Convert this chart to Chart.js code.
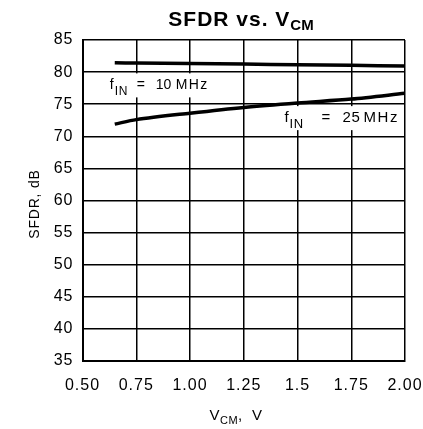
<!DOCTYPE html>
<html>
<head>
<meta charset="utf-8">
<script src="https://cdn.jsdelivr.net/npm/chart.js@4.4.0/dist/chart.umd.min.js"></script>
<style>
html, body { margin: 0; padding: 0; background: #fff; }
</style>
</head>
<body>
<canvas id="sfdr_chart" width="423" height="429"></canvas>
<script>
// data
var vcm = [0.65, 0.75, 1.00, 1.25, 1.50, 1.75, 2.00];
var sfdr_10mhz = [81.45, 81.4, 81.35, 81.25, 81.15, 81.05, 80.95];
var sfdr_25mhz = [71.9, 72.6, 73.6, 74.5, 75.2, 75.8, 76.7];
var x_tick_labels = ["0.50", "0.75", "1.00", "1.25", "1.5", "1.75", "2.00"];

var FONT = "'Liberation Sans', Arial, sans-serif";

// draw a run of text pieces (subscripts); each piece may have its own x offset
function draw_parts(ctx, parts, x, y, align) {
    var total = 0;
    parts.forEach(function(p) {
        ctx.font = p.font;
        ctx.letterSpacing = p.ls || "0px";
        p.w = ctx.measureText(p.text).width;
        total += p.w;
    });
    var cx = align === "center" ? x - total / 2 : x;
    parts.forEach(function(p) {
        ctx.font = p.font;
        ctx.letterSpacing = p.ls || "0px";
        var px = p.dx !== undefined ? x + p.dx : cx;
        ctx.fillText(p.text, px, y + (p.dy || 0));
        cx += p.w;
    });
}

function set_spacing(chart) {
    chart.ctx.letterSpacing = "1px";
}

var text_plugin = {
    id: "text_plugin",
    beforeLayout: set_spacing,
    beforeDraw: set_spacing,
    afterDraw: function(chart) {
        var ctx = chart.ctx;
        var xs = chart.scales.x, ys = chart.scales.y;
        ctx.save();
        ctx.fillStyle = "#000";
        ctx.textBaseline = "alphabetic";
        ctx.textAlign = "left";

        // title
        draw_parts(ctx, [
            { text: "SFDR vs. V", font: "bold 21px " + FONT, ls: "1px" },
            { text: "CM", font: "bold 15px " + FONT, dy: 4 }
        ], 241, 26, "center");

        // x axis title
        draw_parts(ctx, [
            { text: "V", font: "15px " + FONT, ls: "0.5px" },
            { text: "CM", font: "11px " + FONT, dy: 4, ls: "0.5px" },
            { text: ",  V", font: "15px " + FONT, ls: "0.5px" }
        ], 236, 420, "center");

        // y axis title
        ctx.save();
        ctx.translate(39, 204);
        ctx.rotate(-Math.PI / 2);
        draw_parts(ctx, [
            { text: "SFDR, dB", font: "14px " + FONT, ls: "0.8px" }
        ], 0, 0, "center");
        ctx.restore();

        // series labels sit on white boxes that hide the grid
        var x1 = xs.getPixelForValue(0.627), y1 = ys.getPixelForValue(77.3);
        ctx.fillStyle = "#fff";
        ctx.fillRect(x1 - 6, ys.getPixelForValue(79.8), 108, 24);
        ctx.fillStyle = "#000";
        draw_parts(ctx, [
            { text: "f", font: "14px " + FONT, dx: 0 },
            { text: "IN", font: "12px " + FONT, dy: 6, dx: 5, ls: "0.5px" },
            { text: "=", font: "14px " + FONT, dx: 27 },
            { text: "10", font: "14px " + FONT, dx: 46 },
            { text: "MHz", font: "14px " + FONT, dx: 66, ls: "1.3px" }
        ], x1, y1, "left");

        var x2 = xs.getPixelForValue(1.44), y2 = ys.getPixelForValue(72.3);
        ctx.fillStyle = "#fff";
        ctx.fillRect(x2 - 4, ys.getPixelForValue(74.7), xs.right - 1.5 - (x2 - 4), 24);
        ctx.fillStyle = "#000";
        draw_parts(ctx, [
            { text: "f", font: "15px " + FONT, dx: 0 },
            { text: "IN", font: "13px " + FONT, dy: 6, dx: 5, ls: "0.5px" },
            { text: "=", font: "15px " + FONT, dx: 37 },
            { text: "25", font: "15px " + FONT, dx: 58, ls: "0.5px" },
            { text: "MHz", font: "15px " + FONT, dx: 79, ls: "1.5px" }
        ], x2, y2, "left");

        ctx.restore();
    }
};

var ctx = document.getElementById("sfdr_chart");
var chart = new Chart(ctx, {
    type: "line",
    data: {
        datasets: [
            {
                label: "fIN = 10 MHz",
                data: vcm.map(function(v, i) { return { x: v, y: sfdr_10mhz[i] }; }),
                borderColor: "#000",
                borderWidth: 3.5,
                pointRadius: 0,
                tension: 0.3,
                fill: false
            },
            {
                label: "fIN = 25 MHz",
                data: vcm.map(function(v, i) { return { x: v, y: sfdr_25mhz[i] }; }),
                borderColor: "#000",
                borderWidth: 3.5,
                pointRadius: 0,
                tension: 0.3,
                fill: false
            }
        ]
    },
    options: {
        responsive: false,
        animation: false,
        layout: { padding: { top: 40, right: 18, left: 0, bottom: 0 } },
        plugins: {
            legend: { display: false },
            title: { display: false },
            tooltip: { enabled: false }
        },
        scales: {
            x: {
                type: "linear",
                min: 0.5,
                max: 2.0,
                afterBuildTicks: function(scale) {
                    scale.ticks = x_tick_labels.map(function(t, i) { return { value: 0.5 + 0.25 * i }; });
                },
                afterFit: function(scale) {
                    scale.height = 68;
                    scale.paddingLeft = 0;
                    scale.paddingRight = 0;
                },
                ticks: {
                    color: "#000",
                    font: { family: FONT, size: 16 },
                    padding: 15,
                    maxRotation: 0,
                    autoSkip: false,
                    callback: function(v, i) { return x_tick_labels[i]; }
                },
                grid: { color: "#000", lineWidth: 1.5, drawTicks: false },
                border: { color: "#000", width: 2 }
            },
            y: {
                min: 35,
                max: 85,
                afterFit: function(scale) {
                    scale.width = 82.5;
                    scale.paddingTop = 0;
                    scale.paddingBottom = 0;
                },
                ticks: {
                    stepSize: 5,
                    color: "#000",
                    font: { family: FONT, size: 16 },
                    padding: 9
                },
                grid: { color: "#000", lineWidth: 1.5, drawTicks: false },
                border: { color: "#000", width: 2 }
            }
        }
    },
    plugins: [text_plugin]
});
</script>
</body>
</html>
